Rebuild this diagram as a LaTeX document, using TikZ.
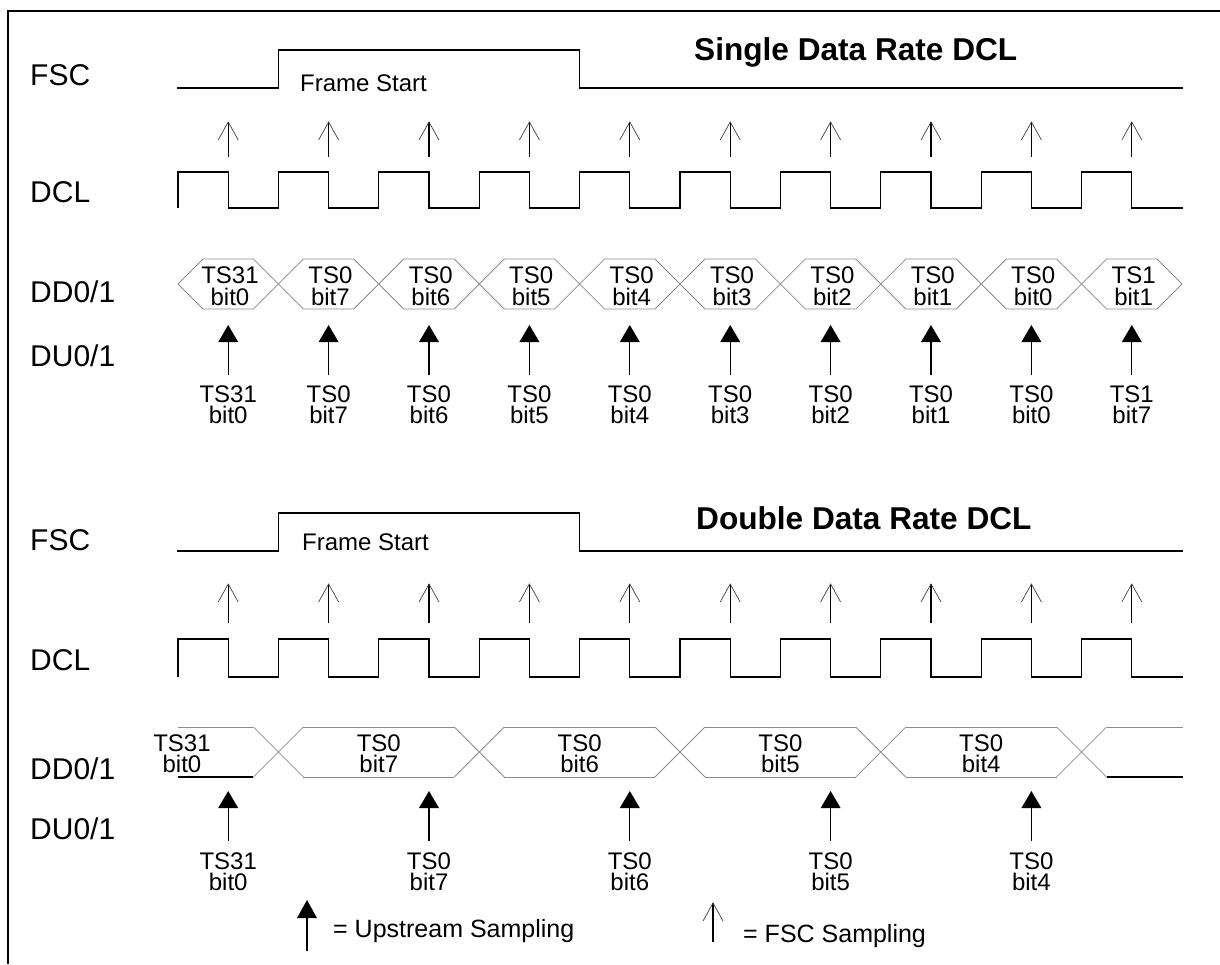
\documentclass[tikz,border=0pt]{standalone}
\usepackage{fontspec}
\setmainfont{Liberation Sans}
\tikzset{
  sig/.style={line width=1.3pt, black},
  hexline/.style={line width=0.8pt, black!45},
  headline/.style={line width=0.7pt, black!75},
  lbl/.style={anchor=base west, inner sep=0pt, font=\fontsize{30}{30}\selectfont},
  ttl/.style={anchor=base west, inner sep=0pt, font=\bfseries\fontsize{31.6}{31.6}\selectfont},
  dtxt/.style={anchor=base, inner sep=0pt, font=\fontsize{24}{24}\selectfont},
  fstxt/.style={anchor=base west, inner sep=0pt, font=\fontsize{24}{24}\selectfont},
  lgtxt/.style={anchor=base west, inner sep=0pt, font=\fontsize{25}{25}\selectfont},
}
\begin{document}
\begin{tikzpicture}[x=1pt,y=-1pt]
\useasboundingbox (0,0) rectangle (1220,964);
% frame
\draw[sig] (8,964) -- (8,11) -- (1220,11);

% ================= SINGLE DATA RATE =================
\node[lbl] (fscA) at (30,85) {FSC};
\node[lbl] (dclA) at (30,202) {DCL};
\node[lbl] (ddA) at (30,302) {DD0/1};
\node[lbl] (duA) at (30,366) {DU0/1};
\node[ttl] (titleA) at (694,60) {Single Data Rate DCL};
\node[fstxt] (frA) at (300,91) {Frame Start};

% FSC waveform
\draw[sig] (177,88) -- (278.4,88) -- (278.4,50) -- (579.2,50) -- (579.2,88) -- (1183,88);
% FSC sampling arrows
\foreach \k in {0,...,9}{
  \draw[sig] ({228.2+\k*100.4},157) -- ({228.2+\k*100.4},122);
  \draw[headline] ({218.2+\k*100.4},140) -- ({228.2+\k*100.4},122) -- ({238.2+\k*100.4},140);
}
% DCL
\draw[sig] (178,208) foreach \k in {0,...,9}{ -- ({178+\k*100.4},208) -- ({178+\k*100.4},172) -- ({228.2+\k*100.4},172) -- ({228.2+\k*100.4},208) } -- (1183,208);
% DD hexagons
\foreach \k in {0,...,9}{
  \draw[hexline] ({178+\k*100.4},284) -- ({203+\k*100.4},259) -- ({253.4+\k*100.4},259) -- ({278.4+\k*100.4},284) -- ({253.4+\k*100.4},309) -- ({203+\k*100.4},309) -- cycle;
}
\foreach \k/\a/\b/\c/\d in {0/TS31/bit0/TS31/bit0, 1/TS0/bit7/TS0/bit7, 2/TS0/bit6/TS0/bit6, 3/TS0/bit5/TS0/bit5, 4/TS0/bit4/TS0/bit4, 5/TS0/bit3/TS0/bit3, 6/TS0/bit2/TS0/bit2, 7/TS0/bit1/TS0/bit1, 8/TS0/bit0/TS0/bit0, 9/TS1/bit1/TS1/bit7}{
  \node[dtxt] (sdt\k) at ({230+\k*100.4},283) {\a};
  \node[dtxt] (sdb\k) at ({230+\k*100.4},305) {\b};
  \fill ({228.2+\k*100.4},325) -- ({238.2+\k*100.4},342) -- ({218.2+\k*100.4},342) -- cycle;
  \draw[sig] ({228.2+\k*100.4},342) -- ({228.2+\k*100.4},375);
  \node[dtxt] (sut\k) at ({228.2+\k*100.4},402) {\c};
  \node[dtxt] (sub\k) at ({228.2+\k*100.4},423) {\d};
}

% ================= DOUBLE DATA RATE =================
\node[lbl] (fscB) at (30,550) {FSC};
\node[lbl] (dclB) at (30,670) {DCL};
\node[lbl] (ddB) at (30,779) {DD0/1};
\node[lbl] (duB) at (30,839) {DU0/1};
\node[ttl] (titleB) at (696,529) {Double Data Rate DCL};
\node[fstxt] (frB) at (302,550) {Frame Start};

\draw[sig] (177,551) -- (278.4,551) -- (278.4,513) -- (579.2,513) -- (579.2,551) -- (1183,551);
\foreach \k in {0,...,9}{
  \draw[sig] ({228.2+\k*100.4},623) -- ({228.2+\k*100.4},584);
  \draw[headline] ({218.2+\k*100.4},602) -- ({228.2+\k*100.4},584) -- ({238.2+\k*100.4},602);
}
\draw[sig] (178,677) foreach \k in {0,...,9}{ -- ({178+\k*100.4},677) -- ({178+\k*100.4},639) -- ({228.2+\k*100.4},639) -- ({228.2+\k*100.4},677) } -- (1183,677);

% DD double rate
\draw[hexline] (178,727) -- (253.4,727);
\draw[sig] (178,777) -- (253.4,777);
\foreach \j in {0,...,4}{
  \draw[hexline] ({253.4+\j*200.8},727) -- ({303.4+\j*200.8},777);
  \draw[hexline] ({253.4+\j*200.8},777) -- ({303.4+\j*200.8},727);
}
\foreach \j in {0,...,3}{
  \draw[hexline] ({303.4+\j*200.8},727) -- ({454.2+\j*200.8},727);
  \draw[hexline] ({303.4+\j*200.8},777) -- ({454.2+\j*200.8},777);
}
\draw[hexline] (1106.6,727) -- (1183,727);
\draw[sig] (1106.6,777) -- (1183,777);

\node[dtxt] (ddt0) at (182,751) {TS31};
\node[dtxt] (ddb0) at (182,772) {bit0};
\foreach \j/\b in {1/bit7, 2/bit6, 3/bit5, 4/bit4}{
  \node[dtxt] (ddt\j) at ({178+\j*200.8},751) {TS0};
  \node[dtxt] (ddb\j) at ({178+\j*200.8},772) {\b};
}
\foreach \j/\a/\b in {0/TS31/bit0, 1/TS0/bit7, 2/TS0/bit6, 3/TS0/bit5, 4/TS0/bit4}{
  \fill ({228.2+\j*200.8},791) -- ({238.2+\j*200.8},808) -- ({218.2+\j*200.8},808) -- cycle;
  \draw[sig] ({228.2+\j*200.8},808) -- ({228.2+\j*200.8},841);
  \node[dtxt] (dut\j) at ({228.2+\j*200.8},869) {\a};
  \node[dtxt] (dub\j) at ({228.2+\j*200.8},890) {\b};
}

% ================= LEGEND =================
\fill (307,900) -- (317,918) -- (297,918) -- cycle;
\draw[sig] (307,918) -- (307,951);
\node[lgtxt] (lgup) at (333,937) {= Upstream Sampling};
\draw[sig] (713,942) -- (713,903);
\draw[headline] (703,921) -- (713,903) -- (723,921);
\node[lgtxt] (lgfsc) at (743,942) {= FSC Sampling};
\end{tikzpicture}
\end{document}
